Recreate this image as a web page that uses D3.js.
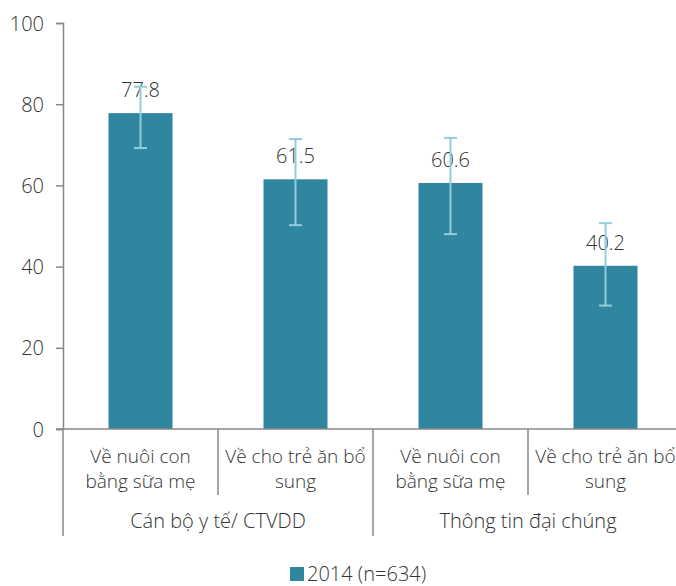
<!DOCTYPE html>
<html>
<head>
<meta charset="utf-8">
<script src="https://cdn.jsdelivr.net/npm/d3@7"></script>
<style>
    body { margin: 0; background: #fff; }
    text { font-family: "Open Sans", "Noto Sans", sans-serif; font-weight: 300; fill: #333333; }
</style>
</head>
<body>
<script>
// data
let categories = ["c1", "c2", "c3", "c4"];
let catLabels = [
    ["Về nuôi con", "bằng sữa mẹ"],
    ["Về cho trẻ ăn bổ", "sung"],
    ["Về nuôi con", "bằng sữa mẹ"],
    ["Về cho trẻ ăn bổ", "sung"]
];
let groups = ["Cán bộ y tế/ CTVDD", "Thông tin đại chúng"];
let values = [77.8, 61.5, 60.6, 40.2];
let errLow = [69.2, 50.2, 48.0, 30.4];
let errHigh = [84.3, 71.4, 71.7, 50.7];
let yTicks = [0, 20, 40, 60, 80, 100];
let seriesName = "2014 (n=634)";

let barColor = "#31869F";
let errColor = "#92CDDC";
let axisColor = "#888888";
let fontSize = "20px";

let svg = d3.select("body").append("svg")
    .attr("width", 676)
    .attr("height", 586);

let x = d3.scaleBand().domain(categories).range([63, 683]);
let y = d3.scaleLinear().domain([0, 100]).range([429, 23]);
let barW = x.bandwidth() * 0.413;

// y axis
let yAxis = svg.append("g")
    .attr("transform", "translate(63,0)")
    .call(d3.axisLeft(y).tickValues(yTicks).tickSize(7).tickPadding(12));
yAxis.select(".domain").attr("stroke", axisColor).attr("stroke-width", 1.5);
yAxis.selectAll(".tick line").attr("stroke", axisColor).attr("stroke-width", 1.5);
yAxis.selectAll(".tick text")
    .style("font-size", fontSize)
    .attr("dy", "0.35em")
    .attr("fill", "#333333");

// bars
svg.selectAll("rect.bar")
    .data(values)
    .enter()
    .append("rect")
    .attr("class", "bar")
    .attr("x", (d, i) => x(categories[i]) + (x.bandwidth() - barW) / 2)
    .attr("y", d => y(d))
    .attr("width", barW)
    .attr("height", d => y(0) - y(d))
    .attr("fill", barColor);

// value labels
svg.selectAll("text.val")
    .data(values)
    .enter()
    .append("text")
    .attr("class", "val")
    .attr("x", (d, i) => x(categories[i]) + x.bandwidth() / 2)
    .attr("y", d => y(d) - 16)
    .attr("text-anchor", "middle")
    .style("font-size", fontSize)
    .text(d => d.toFixed(1));

// error bars
let capW = 13;
let err = svg.selectAll("g.err")
    .data(values)
    .enter()
    .append("g")
    .attr("class", "err")
    .attr("stroke", errColor)
    .attr("stroke-width", 2);
err.append("line")
    .attr("x1", (d, i) => x(categories[i]) + x.bandwidth() / 2)
    .attr("x2", (d, i) => x(categories[i]) + x.bandwidth() / 2)
    .attr("y1", (d, i) => y(errLow[i]))
    .attr("y2", (d, i) => y(errHigh[i]));
err.append("line")
    .attr("x1", (d, i) => x(categories[i]) + x.bandwidth() / 2 - capW / 2)
    .attr("x2", (d, i) => x(categories[i]) + x.bandwidth() / 2 + capW / 2)
    .attr("y1", (d, i) => y(errLow[i]))
    .attr("y2", (d, i) => y(errLow[i]));
err.append("line")
    .attr("x1", (d, i) => x(categories[i]) + x.bandwidth() / 2 - capW / 2)
    .attr("x2", (d, i) => x(categories[i]) + x.bandwidth() / 2 + capW / 2)
    .attr("y1", (d, i) => y(errHigh[i]))
    .attr("y2", (d, i) => y(errHigh[i]));

// x axis baseline
svg.append("line")
    .attr("x1", 56).attr("x2", 683)
    .attr("y1", y(0)).attr("y2", y(0))
    .attr("stroke", axisColor).attr("stroke-width", 1.5);

// separators: inner ones short, group ones long
categories.forEach((c, i) => {
    let xs = x(c);
    let long = i % 2 === 0;
    svg.append("line")
        .attr("x1", xs).attr("x2", xs)
        .attr("y1", y(0)).attr("y2", long ? 536 : 495)
        .attr("stroke", axisColor).attr("stroke-width", 1.5);
});
svg.append("line")
    .attr("x1", x.range()[1]).attr("x2", x.range()[1])
    .attr("y1", y(0)).attr("y2", 536)
    .attr("stroke", axisColor).attr("stroke-width", 1.5);

// category labels (slightly smaller so the long one fits the window)
let cl = svg.selectAll("text.cat")
    .data(catLabels)
    .enter()
    .append("text")
    .attr("class", "cat")
    .attr("text-anchor", "middle")
    .style("font-size", "19px");
cl.selectAll("tspan")
    .data((d, i) => d.map(t => ({ t: t, i: i })))
    .enter()
    .append("tspan")
    .attr("x", d => x(categories[d.i]) + x.bandwidth() / 2)
    .attr("y", (d, j) => 463 + j * 25)
    .text(d => d.t);

// group labels
svg.selectAll("text.grp")
    .data(groups)
    .enter()
    .append("text")
    .attr("class", "grp")
    .attr("text-anchor", "middle")
    .attr("x", (d, i) => x(categories[i * 2]) + x.bandwidth())
    .attr("y", 528)
    .style("font-size", fontSize)
    .text(d => d);

// legend
let leg = svg.append("g").attr("transform", "translate(290,567)");
leg.append("rect").attr("width", 14).attr("height", 14).attr("fill", barColor);
leg.append("text")
    .attr("x", 17)
    .attr("y", 14)
    .style("font-size", fontSize)
    .text(seriesName);
</script>
</body>
</html>
